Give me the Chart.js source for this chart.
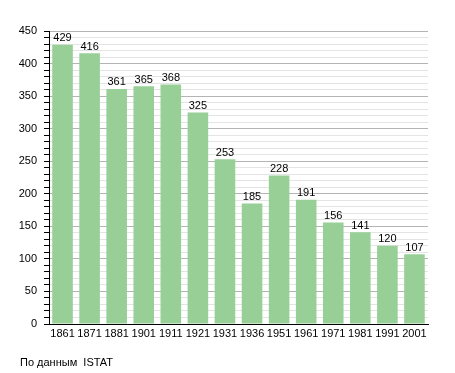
<!DOCTYPE html>
<html>
<head>
<meta charset="utf-8">
<script src="https://cdn.jsdelivr.net/npm/chart.js@4"></script>
<style>
  body { margin: 0; background: #fff; }
  #wrap { position: relative; width: 455px; height: 373px; }
  #note {
    position: absolute; left: 20px; top: 356px;
    font: 11px "Liberation Sans", Arial, sans-serif; color: #000;
    white-space: pre;
  }
</style>
</head>
<body>
<div id="wrap">
  <canvas id="chart" width="455" height="373"></canvas>
  <div id="note">По данным  ISTAT</div>
</div>
<script>
const years = ["1861", "1871", "1881", "1901", "1911", "1921", "1931", "1936", "1951", "1961", "1971", "1981", "1991", "2001"];
const population = [429, 416, 361, 365, 368, 325, 253, 185, 228, 191, 156, 141, 120, 107];

const fontFamily = '"Liberation Sans", Arial, sans-serif';

const valueLabels = {
  id: "valueLabels",
  afterDatasetsDraw(chart) {
    const ctx = chart.ctx;
    const meta = chart.getDatasetMeta(0);
    ctx.save();
    ctx.font = "11px " + fontFamily;
    ctx.fillStyle = "#000";
    ctx.textAlign = "center";
    ctx.textBaseline = "bottom";
    meta.data.forEach((bar, i) => {
      ctx.fillText(population[i], bar.x, bar.y - 1);
    });
    ctx.restore();
  },
};

new Chart(document.getElementById("chart"), {
  type: "bar",
  data: {
    labels: years,
    datasets: [
      {
        data: population,
        backgroundColor: "#97cf97",
        borderWidth: 0,
        barPercentage: 0.76,
        categoryPercentage: 1,
      },
    ],
  },
  options: {
    responsive: false,
    animation: false,
    layout: { padding: { top: 31, right: 27, bottom: 0, left: 0 } },
    plugins: {
      legend: { display: false },
      tooltip: { enabled: false },
    },
    scales: {
      x: {
        grid: { display: false, drawTicks: false },
        border: { color: "#000", width: 1 },
        ticks: { color: "#000", font: { family: fontFamily, size: 11 }, padding: 3, maxRotation: 0, autoSkip: false },
        afterFit(scale) { scale.height = 49; },
      },
      y: {
        min: 0,
        max: 450,
        border: { color: "#000", width: 1 },
        grid: {
          color: (c) => (c.tick && c.tick.value % 50 === 0 ? "#b4b4b4" : "#e4e4e4"),
          tickColor: "#000",
          tickLength: 5,
        },
        ticks: {
          stepSize: 10,
          autoSkip: false,
          color: "#000",
          padding: 7,
          font: { family: fontFamily, size: 11 },
          callback: (v) => (v % 50 === 0 ? v : ""),
        },
        afterFit(scale) { scale.width = 49; },
      },
    },
  },
  plugins: [valueLabels],
});
</script>
</body>
</html>
